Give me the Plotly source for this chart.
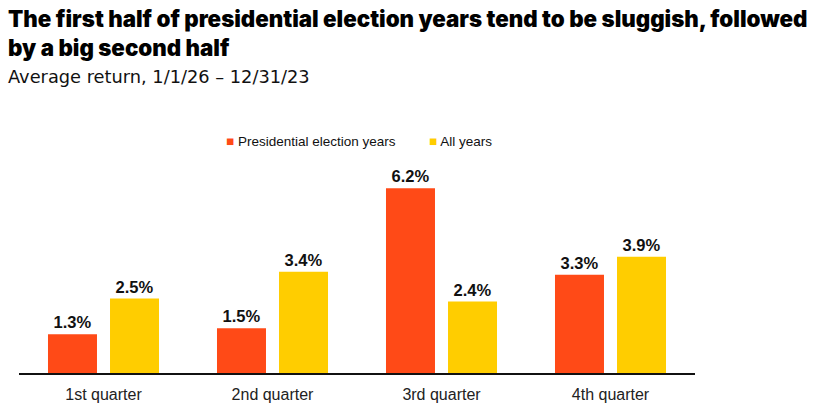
import plotly.graph_objects as go

categories = ["1st quarter", "2nd quarter", "3rd quarter", "4th quarter"]
election_years = [1.3, 1.5, 6.2, 3.3]
all_years = [2.5, 3.4, 2.4, 3.9]
series_names = ["Presidential election years", "All years"]

RED = "#FF4A17"
YEL = "#FFCD00"

W, H = 818, 409
ML, MR, MT, MB = 19, 123, 160, 36
PW, PH = W - ML - MR, H - MT - MB

def px_x(x):
    return (x - ML) / PW

def px_y(y):
    return (H - MB - y) / PH

fig = go.Figure()
for name, vals, col in [(series_names[0], election_years, RED), (series_names[1], all_years, YEL)]:
    fig.add_trace(go.Bar(
        x=categories, y=vals, name=name, marker=dict(color=col, line=dict(width=0)),
        texttemplate="%{y:.1f}%", textposition="outside", cliponaxis=False,
        textfont=dict(family="Liberation Sans", size=16.5, color="#111", weight="bold"),
        showlegend=False, hoverinfo="skip",
    ))

legend_ann = []
for name, col, x0 in [(series_names[0], RED, 224), (series_names[1], YEL, 427)]:
    legend_ann.append(dict(
        text=f"<span style='color:{col}'>■</span> {name}",
        xref="paper", yref="paper", x=px_x(x0), y=px_y(142), xanchor="left", yanchor="middle",
        showarrow=False, font=dict(family="Liberation Sans", size=13.5, color="#111")))

fig.update_layout(
    width=W, height=H,
    margin=dict(l=ML, r=MR, t=MT, b=MB, autoexpand=False),
    plot_bgcolor="white", paper_bgcolor="white",
    barmode="group", bargap=0.266, bargroupgap=0.21,
    xaxis=dict(showline=True, linecolor="#111", linewidth=2, ticks="",
               tickfont=dict(family="Liberation Sans", size=16, color="#222"),
               ticklabelstandoff=6, range=[-0.5, 3.5]),
    yaxis=dict(visible=False, range=[0, 7.15]),
    annotations=[
        dict(text="The first half of presidential election years tend to be sluggish, followed<br>by a big second half",
             xref="paper", yref="paper", x=px_x(6), y=px_y(3), xanchor="left", yanchor="top",
             align="left", showarrow=False,
             font=dict(family="Inter", size=22.3, color="#000", weight=900)),
        dict(text="Average return, 1/1/26 – 12/31/23",
             xref="paper", yref="paper", x=px_x(6), y=px_y(64), xanchor="left", yanchor="top",
             align="left", showarrow=False,
             font=dict(family="DejaVu Sans", size=17.8, color="#111")),
    ] + legend_ann,
)

fig.write_html("out.html", config={"displayModeBar": False},
               post_script="document.body.style.margin='0';document.body.style.padding='0';")
